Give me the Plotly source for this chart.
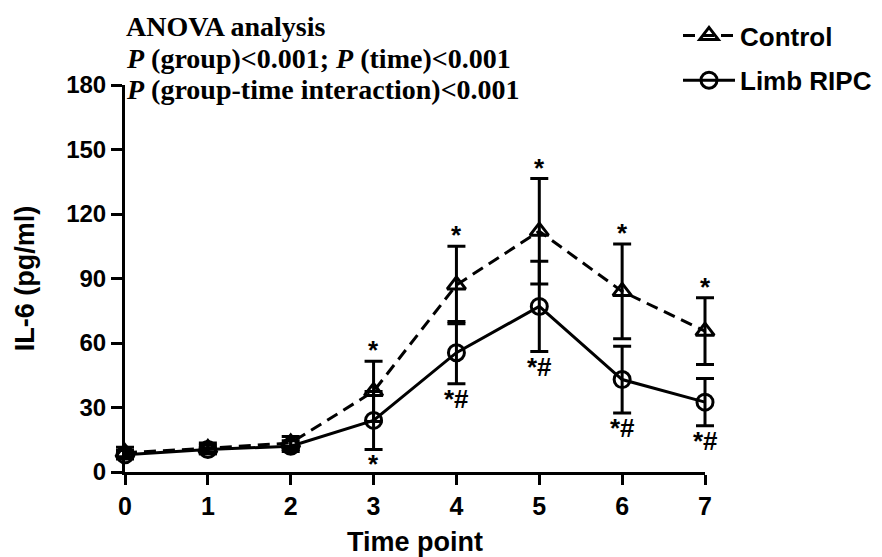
import plotly.graph_objects as go

time_points = [0, 1, 2, 3, 4, 5, 6, 7]
control_mean = [9, 11, 13.5, 37.5, 87, 112, 84, 65.5]
control_sd = [2.5, 2.5, 3, 14, 18, 24.5, 22, 15.5]
ripc_mean = [8, 10.5, 12, 24, 55.5, 77, 43, 32.5]
ripc_sd = [2, 2, 2.5, 13.5, 14.5, 21, 15.5, 11]
control_marks = ["", "", "", "*", "*", "*", "*", "*"]
ripc_marks = ["", "", "", "*", "*#", "*#", "*#", "*#"]
y_ticks = [0, 30, 60, 90, 120, 150, 180]
anova_lines = [
    "<b>ANOVA analysis</b>",
    "<b><i>P</i> (group)&lt;0.001; <i>P</i> (time)&lt;0.001</b>",
    "<b><i>P</i> (group-time interaction)&lt;0.001</b>",
]

SANS = "Liberation Sans, Arial, sans-serif"
SERIF = "Liberation Serif, Times New Roman, serif"

# layout geometry (pixels)
W, H = 882, 557
ML, MR, MT, MB = 100, 170, 77, 93
AX_L, AX_R = 117, 697            # visible x axis from t=0 to t=7
PW = W - ML - MR
ppu = (AX_R - AX_L) / 7.0
x2_range = [(ML - AX_L) / ppu, (W - MR - AX_L) / ppu]
PH = H - MT - MB

fig = go.Figure()
# invisible helper so the visible x/y axis pair is drawn
fig.add_trace(go.Scatter(x=time_points, y=control_mean, xaxis="x", yaxis="y",
                         mode="markers", marker=dict(opacity=0), showlegend=False,
                         hoverinfo="skip"))
fig.add_trace(go.Scatter(
    x=time_points, y=control_mean, name="Control", legendgroup="c",
    xaxis="x2", yaxis="y",
    mode="lines+markers",
    line=dict(color="black", width=3, dash="12px,7px"),
    marker=dict(symbol="triangle-up-open", size=16, color="black", line=dict(width=3, color="black")),
    error_y=dict(type="data", array=control_sd, color="black", thickness=3, width=9),
    cliponaxis=False,
))
fig.add_trace(go.Scatter(
    x=time_points, y=ripc_mean, name="Limb RIPC", legendgroup="r",
    xaxis="x2", yaxis="y",
    mode="lines+markers",
    line=dict(color="black", width=3),
    marker=dict(symbol="circle-open", size=16, color="black", line=dict(width=3, color="black")),
    error_y=dict(type="data", array=ripc_sd, color="black", thickness=3, width=9),
    cliponaxis=False,
))

for t, m, s, lab in zip(time_points, control_mean, control_sd, control_marks):
    if lab:
        fig.add_annotation(xref="x2", yref="y", x=t, y=m + s, text=lab, showarrow=False,
                           yanchor="bottom", yshift=-6,
                           font=dict(family=SANS, size=26, color="black", weight="bold"))
for t, m, s, lab in zip(time_points, ripc_mean, ripc_sd, ripc_marks):
    if lab:
        fig.add_annotation(xref="x2", yref="y", x=t, y=m - s, text=lab, showarrow=False,
                           yanchor="top", yshift=2,
                           font=dict(family=SANS, size=26, color="black", weight="bold"))

for i, line in enumerate(anova_lines):
    fig.add_annotation(xref="paper", yref="paper", x=(117 - ML) / PW,
                       y=(H - MB - (18 + 32 * i)) / PH,
                       xanchor="left", yanchor="middle", text=line, showarrow=False,
                       borderpad=0,
                       font=dict(family=SERIF, size=28, color="black"))

fig.update_layout(
    width=W, height=H,
    margin=dict(l=ML, r=MR, t=MT, b=MB, autoexpand=False),
    paper_bgcolor="white", plot_bgcolor="rgba(0,0,0,0)",
    font=dict(family=SANS, color="black"),
    showlegend=True,
    legend=dict(x=(670 - ML) / PW, y=(H - MB - 4) / PH, xanchor="left", yanchor="top",
                font=dict(family=SANS, size=26, color="black", weight="bold"),
                tracegroupgap=8, itemwidth=52, bgcolor="rgba(0,0,0,0)"),
    xaxis=dict(domain=[(AX_L - ML) / PW, (AX_R - ML) / PW], anchor="y",
               range=[0, 7], tickvals=time_points, showgrid=False, zeroline=False,
               showline=True, linecolor="black", linewidth=3,
               ticks="outside", ticklen=10, tickwidth=3, tickcolor="black",
               tickfont=dict(family=SANS, size=25, color="black", weight="bold"),
               title=dict(text="Time point", font=dict(family=SANS, size=27, color="black", weight="bold"), standoff=14)),
    xaxis2=dict(domain=[0, 1], anchor="y", range=x2_range, visible=False,
                showgrid=False, zeroline=False),
    yaxis=dict(domain=[0, 1], anchor="x", range=[0, 180], tickvals=y_ticks,
               showgrid=False, zeroline=False,
               showline=True, linecolor="black", linewidth=3,
               ticks="outside", ticklen=11, tickwidth=3, tickcolor="black",
               tickfont=dict(family=SANS, size=24, color="black", weight="bold"),
               title=dict(text="IL-6 (pg/ml)", font=dict(family=SANS, size=27, color="black", weight="bold"), standoff=24)),
)

fig.write_html("out.html")
